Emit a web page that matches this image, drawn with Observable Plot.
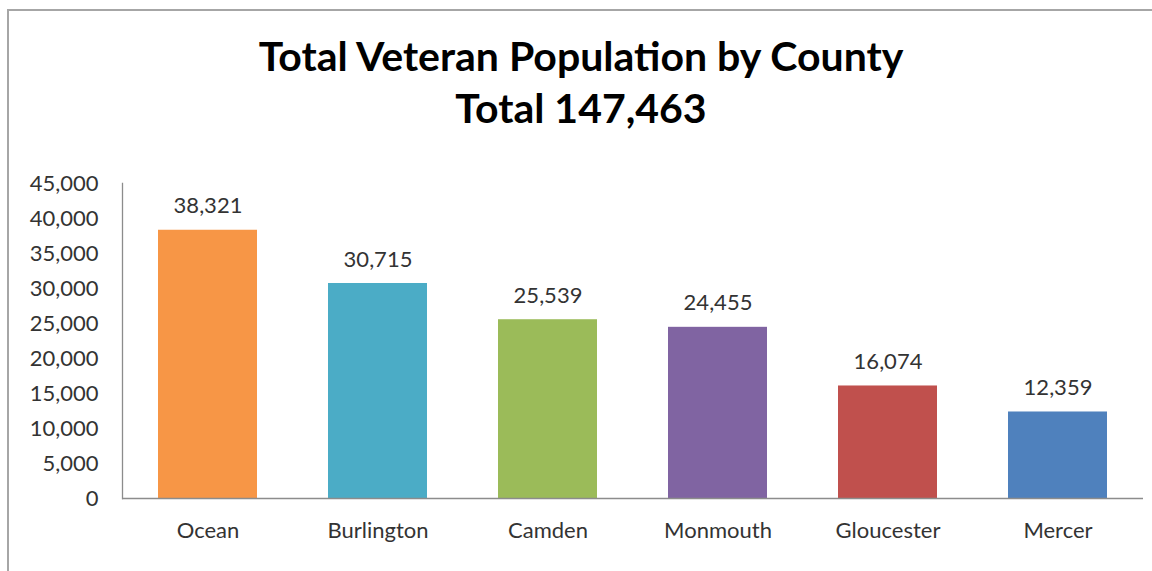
<!DOCTYPE html>
<html>
<head>
<meta charset="utf-8">
<script src="https://cdn.jsdelivr.net/npm/d3@7"></script>
<script src="https://cdn.jsdelivr.net/npm/@observablehq/plot@0.6"></script>
<style>
  html, body { margin: 0; padding: 0; background: #fff; overflow: hidden; }
  #frame { position: absolute; left: 7px; top: 9px; width: 1300px; height: 700px;
           border-top: 2px solid #a6a6a6; border-left: 2px solid #a6a6a6; box-sizing: border-box; }
  #wrap { position: absolute; left: 0; top: 0; width: 1152px; }
  #title { height: 160px; box-sizing: border-box; padding-top: 30px; text-align: center;
           font-family: Lato, sans-serif; font-weight: bold; font-size: 41px; line-height: 52px; color: #000; }
  #title div { padding-left: 10px; }
</style>
</head>
<body>
<div id="frame"></div>
<div id="wrap">
  <div id="title"><div>Total Veteran Population by County</div><div>Total 147,463</div></div>
  <div id="chart"></div>
</div>
<script>
const counties = ["Ocean", "Burlington", "Camden", "Monmouth", "Gloucester", "Mercer"];
const veterans = [38321, 30715, 25539, 24455, 16074, 12359];
const colors = ["#F79646", "#4BACC6", "#9BBB59", "#8064A2", "#C0504D", "#4F81BD"];
const yTicks = [0, 5000, 10000, 15000, 20000, 25000, 30000, 35000, 40000, 45000];

const data = counties.map((c, i) => ({county: c, value: veterans[i], color: colors[i]}));
const fmt = d3.format(",");

const chart = Plot.plot({
  width: 1152,
  height: 411,
  marginTop: 23,
  marginBottom: 73,
  marginLeft: 122,
  marginRight: 9,
  style: {fontFamily: "Lato, sans-serif", fontSize: "22px", color: "#333", background: "transparent"},
  x: {domain: counties, paddingInner: 0.42, paddingOuter: 0.21, label: null, tickSize: 0, tickPadding: 24},
  y: {domain: [0, 45000], ticks: yTicks, tickFormat: fmt, label: null, tickSize: 0, tickPadding: 24},
  marks: [
    Plot.barY(data, {x: "county", y: "value", fill: "color"}),
    Plot.text(data, {x: "county", y: "value", text: d => fmt(d.value), dy: -24, fill: "#333", fontSize: 22}),
    Plot.frame({anchor: "left", stroke: "#8c8c8c", strokeWidth: 1.3}),
    Plot.ruleY([0], {stroke: "#8c8c8c", strokeWidth: 1.3})
  ]
});
document.getElementById("chart").appendChild(chart);
</script>
</body>
</html>
